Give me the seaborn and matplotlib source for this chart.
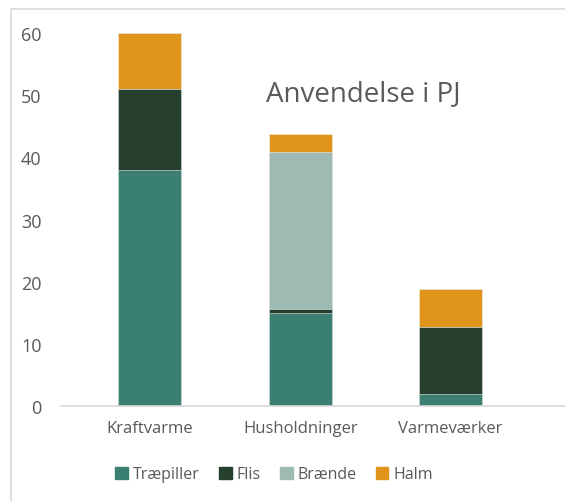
import matplotlib.pyplot as plt
import matplotlib.patches as mpatches
import seaborn as sns
import pandas as pd
import numpy as np

categories = ["Kraftvarme", "Husholdninger", "Varmeværker"]
series_names = ["Træpiller", "Flis", "Brænde", "Halm"]
traepiller = [38, 14.9, 1.9]
flis = [13, 0.8, 10.9]
braende = [0, 25.1, 0]
halm = [9, 3, 6.1]
colors = ["#3A7F71", "#273F2F", "#9DBBB3", "#E0951A"]

sns.set_style("white")
plt.rcParams["font.family"] = ["Open Sans", "DejaVu Sans"]

values = np.array([traepiller, flis, braende, halm])
cum = values.cumsum(axis=0)

fig = plt.figure(figsize=(5.65, 5.02), dpi=100)
ax = fig.add_axes([0.108, 0.189, 0.892, 0.743])

# stacked bars: draw cumulative totals from the top layer down
for i in reversed(range(len(series_names))):
    df = pd.DataFrame({"kategori": categories, "vaerdi": cum[i]})
    sns.barplot(data=df, x="kategori", y="vaerdi", color=colors[i],
                width=0.42, saturation=1, ax=ax, edgecolor="#E8EEEC", linewidth=0.4)

ax.set_ylim(0, 60)
ax.set_xlim(-0.59, 2.76)
ax.set_yticks([0, 10, 20, 30, 40, 50, 60])
ax.set_xlabel("")
ax.set_ylabel("")
ax.tick_params(axis="both", length=0, labelsize=12, colors="#595959")
ax.tick_params(axis="y", pad=14, labelsize=13)
ax.tick_params(axis="x", pad=10)
for s in ["top", "right", "left"]:
    ax.spines[s].set_visible(False)
ax.spines["bottom"].set_color("#D9D9D9")
ax.spines["bottom"].set_linewidth(1.2)

ax.text(1.42, 50.3, "Anvendelse i PJ", fontsize=20, color="#595959", ha="center", va="center")

handles = [mpatches.Patch(color=c, label=n) for c, n in zip(colors, series_names)]
fig.legend(handles=handles, loc="center", bbox_to_anchor=(0.485, 0.053), ncol=4,
           frameon=False, fontsize=11.5, handlelength=0.8, handleheight=0.8,
           handletextpad=0.3, columnspacing=1.2, labelcolor="#595959")

fig.add_artist(mpatches.Rectangle((11 / 565, -0.01), 1.0, 1 - 10 / 502 + 0.01,
                                  transform=fig.transFigure, fill=False,
                                  edgecolor="#D9D9D9", linewidth=1.2))

fig.savefig("out.png", dpi=100)
